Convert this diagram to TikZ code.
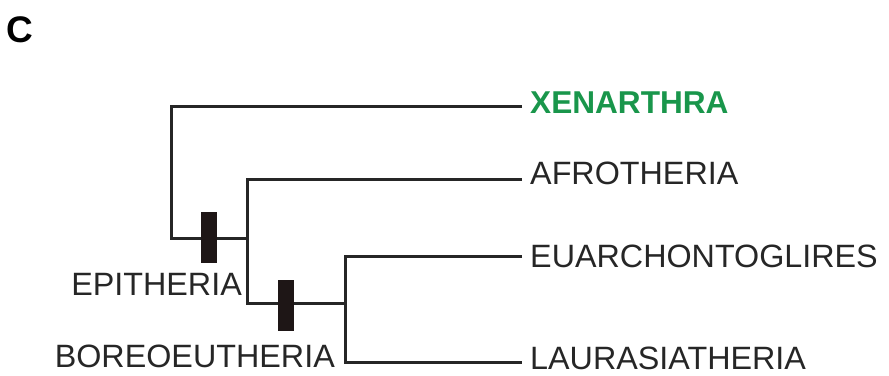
\documentclass[tikz,border=0pt]{standalone}
\usepackage{fontspec}
\setmainfont{Liberation Sans}
\definecolor{cladegreen}{RGB}{25,150,75}
\definecolor{barfill}{RGB}{30,22,22}
\begin{document}
\begin{tikzpicture}[x=1pt,y=-1pt,
  branch/.style={line width=3pt, line join=miter, color=black!85},
  synapo/.style={rectangle, fill=barfill, inner sep=0pt, minimum width=16pt, minimum height=51pt},
  taxon/.style={inner sep=0pt, font=\fontsize{32.3}{38}\selectfont, text=black!85},
  cladelabel/.style={taxon, anchor=base east},
  tiplabel/.style={taxon, anchor=base west}]
\useasboundingbox (0,0) rectangle (889,375);

% panel letter
\node[inner sep=0pt, anchor=base west, font=\fontsize{37}{44}\selectfont\bfseries] (panel) at (6,42) {C};

% branch points and tips
\coordinate (xtip) at (522,106);
\coordinate (rootl) at (171,238);
\coordinate (epinode) at (247,238);
\coordinate (afrotip) at (522,179);
\coordinate (boreol) at (247,303);
\coordinate (boreonode) at (345,303);
\coordinate (euartip) at (522,256);
\coordinate (laurbase) at (345,362);
\coordinate (laurtip) at (522,362);

% branches
\draw[branch] (xtip) -| (rootl) -- (epinode);
\draw[branch] (afrotip) -| (boreol) -- (boreonode);
\draw[branch] (euartip) -| (laurbase) -- (laurtip);

% synapomorphy bars
\node[synapo] (epibar) at (209,237.5) {};
\node[synapo] (boreobar) at (285.5,305.5) {};

% clade names
\node[cladelabel] (epitheria) at (242,295) {EPITHERIA};
\node[cladelabel] (boreoeutheria) at (335,367) {BOREOEUTHERIA};

% terminal taxa
\node[tiplabel, text=cladegreen, font=\fontsize{31.6}{38}\selectfont\bfseries] (xenarthra) at (530,113) {XENARTHRA};
\node[tiplabel] (afrotheria) at (530,184) {AFROTHERIA};
\node[tiplabel] (euarchontoglires) at (530,267) {EUARCHONTOGLIRES};
\node[tiplabel] (laurasiatheria) at (530,369) {LAURASIATHERIA};
\end{tikzpicture}
\end{document}
